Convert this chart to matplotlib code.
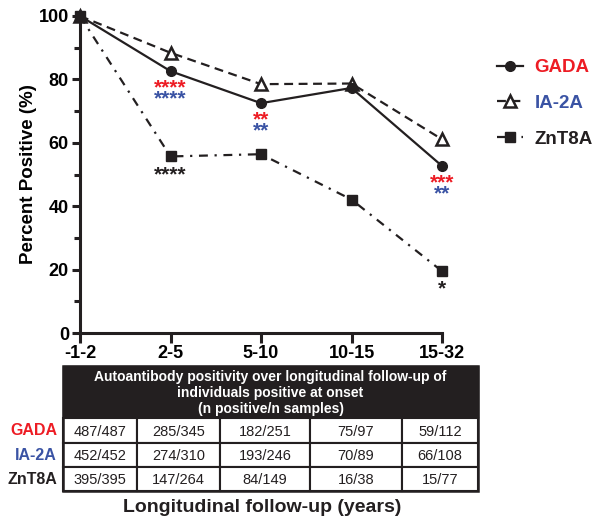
import matplotlib
matplotlib.use("Agg")
import matplotlib.pyplot as plt
from matplotlib.patches import Rectangle

plt.rcParams['font.family'] = ['Liberation Sans', 'DejaVu Sans']

# follow-up windows (years)
periods = ['-1-2', '2-5', '5-10', '10-15', '15-32']

# percent positive at each follow-up window
gada = [100, 82.6, 72.5, 77.3, 52.7]
ia2a = [100, 88.4, 78.5, 78.7, 61.1]
znt8a = [100, 55.7, 56.4, 42.1, 19.5]

# n positive / n samples
gada_n = ['487/487', '285/345', '182/251', '75/97', '59/112']
ia2a_n = ['452/452', '274/310', '193/246', '70/89', '66/108']
znt8a_n = ['395/395', '147/264', '84/149', '16/38', '15/77']

# significance stars (index, text) for each series
gada_sig = [(1, '****'), (2, '**'), (4, '***')]
ia2a_sig = [(1, '****'), (2, '**'), (4, '**')]
znt8a_sig = [(1, '****'), (4, '*')]

RED = '#ED1C24'
BLUE = '#3A53A4'
BLACK = '#231F20'

W, H = 598, 518
fig = plt.figure(figsize=(W / 100, H / 100), dpi=100)

def px(x0, y0, x1, y1):
    # axes rect from pixel box (top-left origin)
    return [x0 / W, 1 - y1 / H, (x1 - x0) / W, (y1 - y0) / H]

ax = fig.add_axes(px(80, 16, 442, 333))
x = list(range(len(periods)))

l1, = ax.plot(x, gada, '-', color=BLACK, lw=1.6, marker='o', ms=7, clip_on=False, zorder=4)
l2, = ax.plot(x, ia2a, '--', color=BLACK, lw=1.6, dashes=(4, 2.5), marker='^', ms=8,
              mfc='white', mec=BLACK, mew=1.8, clip_on=False, zorder=3)
l3, = ax.plot(x, znt8a, '-.', color=BLACK, lw=1.6, dashes=(4, 3, 1, 3), marker='s', ms=7.5,
              clip_on=False, zorder=5)

ax.set_xlim(0, 4)
ax.set_ylim(0, 100)
for s in ['top', 'right']:
    ax.spines[s].set_visible(False)
for s in ['left', 'bottom']:
    ax.spines[s].set_linewidth(2.2)
    ax.spines[s].set_color(BLACK)

ax.set_xticks(x)
ax.set_xticklabels(periods, fontsize=13, fontweight='bold')
ax.set_yticks(range(0, 101, 20))
ax.set_yticks(range(10, 100, 20), minor=True)
ax.tick_params(axis='both', which='major', length=6, width=2.2, color=BLACK, labelsize=13, pad=2)
ax.tick_params(axis='y', which='minor', length=4, width=2.2, color=BLACK)
ax.tick_params(axis='x', which='major', length=7)
for lab in ax.get_yticklabels():
    lab.set_fontweight('bold')

ax.set_ylabel('Percent Positive (%)', fontsize=13.5, fontweight='bold', labelpad=1)

def stars(vals, sig, color, dy):
    for i, txt in sig:
        ax.annotate(txt, (i, vals[i]), xytext=(0, dy), textcoords='offset pixels',
                    ha='center', va='center', color=color, fontsize=15, fontweight='bold')

stars(gada, gada_sig, RED, -17)
stars(gada, ia2a_sig, BLUE, -28)
stars(znt8a, znt8a_sig, BLACK, -18)

leg = fig.legend([l1, l2, l3], ['GADA', 'IA-2A', 'ZnT8A'], loc='upper left',
                 bbox_to_anchor=(497 / W, 1 - 59 / H), frameon=False,
                 prop={'weight': 'bold', 'size': 13.5}, handlelength=1.4, labelspacing=1.0,
                 handletextpad=0.6, borderpad=0, borderaxespad=0)
for t, c in zip(leg.get_texts(), [RED, BLUE, BLACK]):
    t.set_color(c)

# table underneath
tb = fig.add_axes([0, 0, 1, 1])
tb.set_xlim(0, W)
tb.set_ylim(H, 0)
tb.axis('off')

left, right = 63, 478
cols = [63, 137, 220, 310, 402, 478]
top, hdr_bot = 366, 418
rows = [418, 443, 467, 491]

tb.add_patch(Rectangle((left, top), right - left, hdr_bot - top, fc=BLACK, ec=BLACK))
tb.text((left + right) / 2, (top + hdr_bot) / 2 + 1,
        'Autoantibody positivity over longitudinal follow-up of\n'
        'individuals positive at onset\n(n positive/n samples)',
        ha='center', va='center', color='white', fontsize=10, fontweight='bold',
        linespacing=1.2)

for r, (vals, name, c) in enumerate(zip([gada_n, ia2a_n, znt8a_n],
                                       ['GADA', 'IA-2A', 'ZnT8A'], [RED, BLUE, BLACK])):
    y0, y1 = rows[r], rows[r + 1]
    for j, v in enumerate(vals):
        tb.add_patch(Rectangle((cols[j], y0), cols[j + 1] - cols[j], y1 - y0,
                               fc='white', ec=BLACK, lw=1.5))
        tb.text((cols[j] + cols[j + 1]) / 2, (y0 + y1) / 2 + 1, v, ha='center',
                va='center', fontsize=10.5, color=BLACK)
    tb.text(57, (y0 + y1) / 2, name, ha='right', va='center', fontsize=11.5,
            fontweight='bold', color=c)
tb.add_patch(Rectangle((left, top), right - left, rows[-1] - top, fill=False, ec=BLACK, lw=1.8))

tb.text(262, 507, 'Longitudinal follow-up (years)', ha='center', va='center',
        fontsize=14, fontweight='bold', color=BLACK)

fig.savefig('out.png', dpi=100)
